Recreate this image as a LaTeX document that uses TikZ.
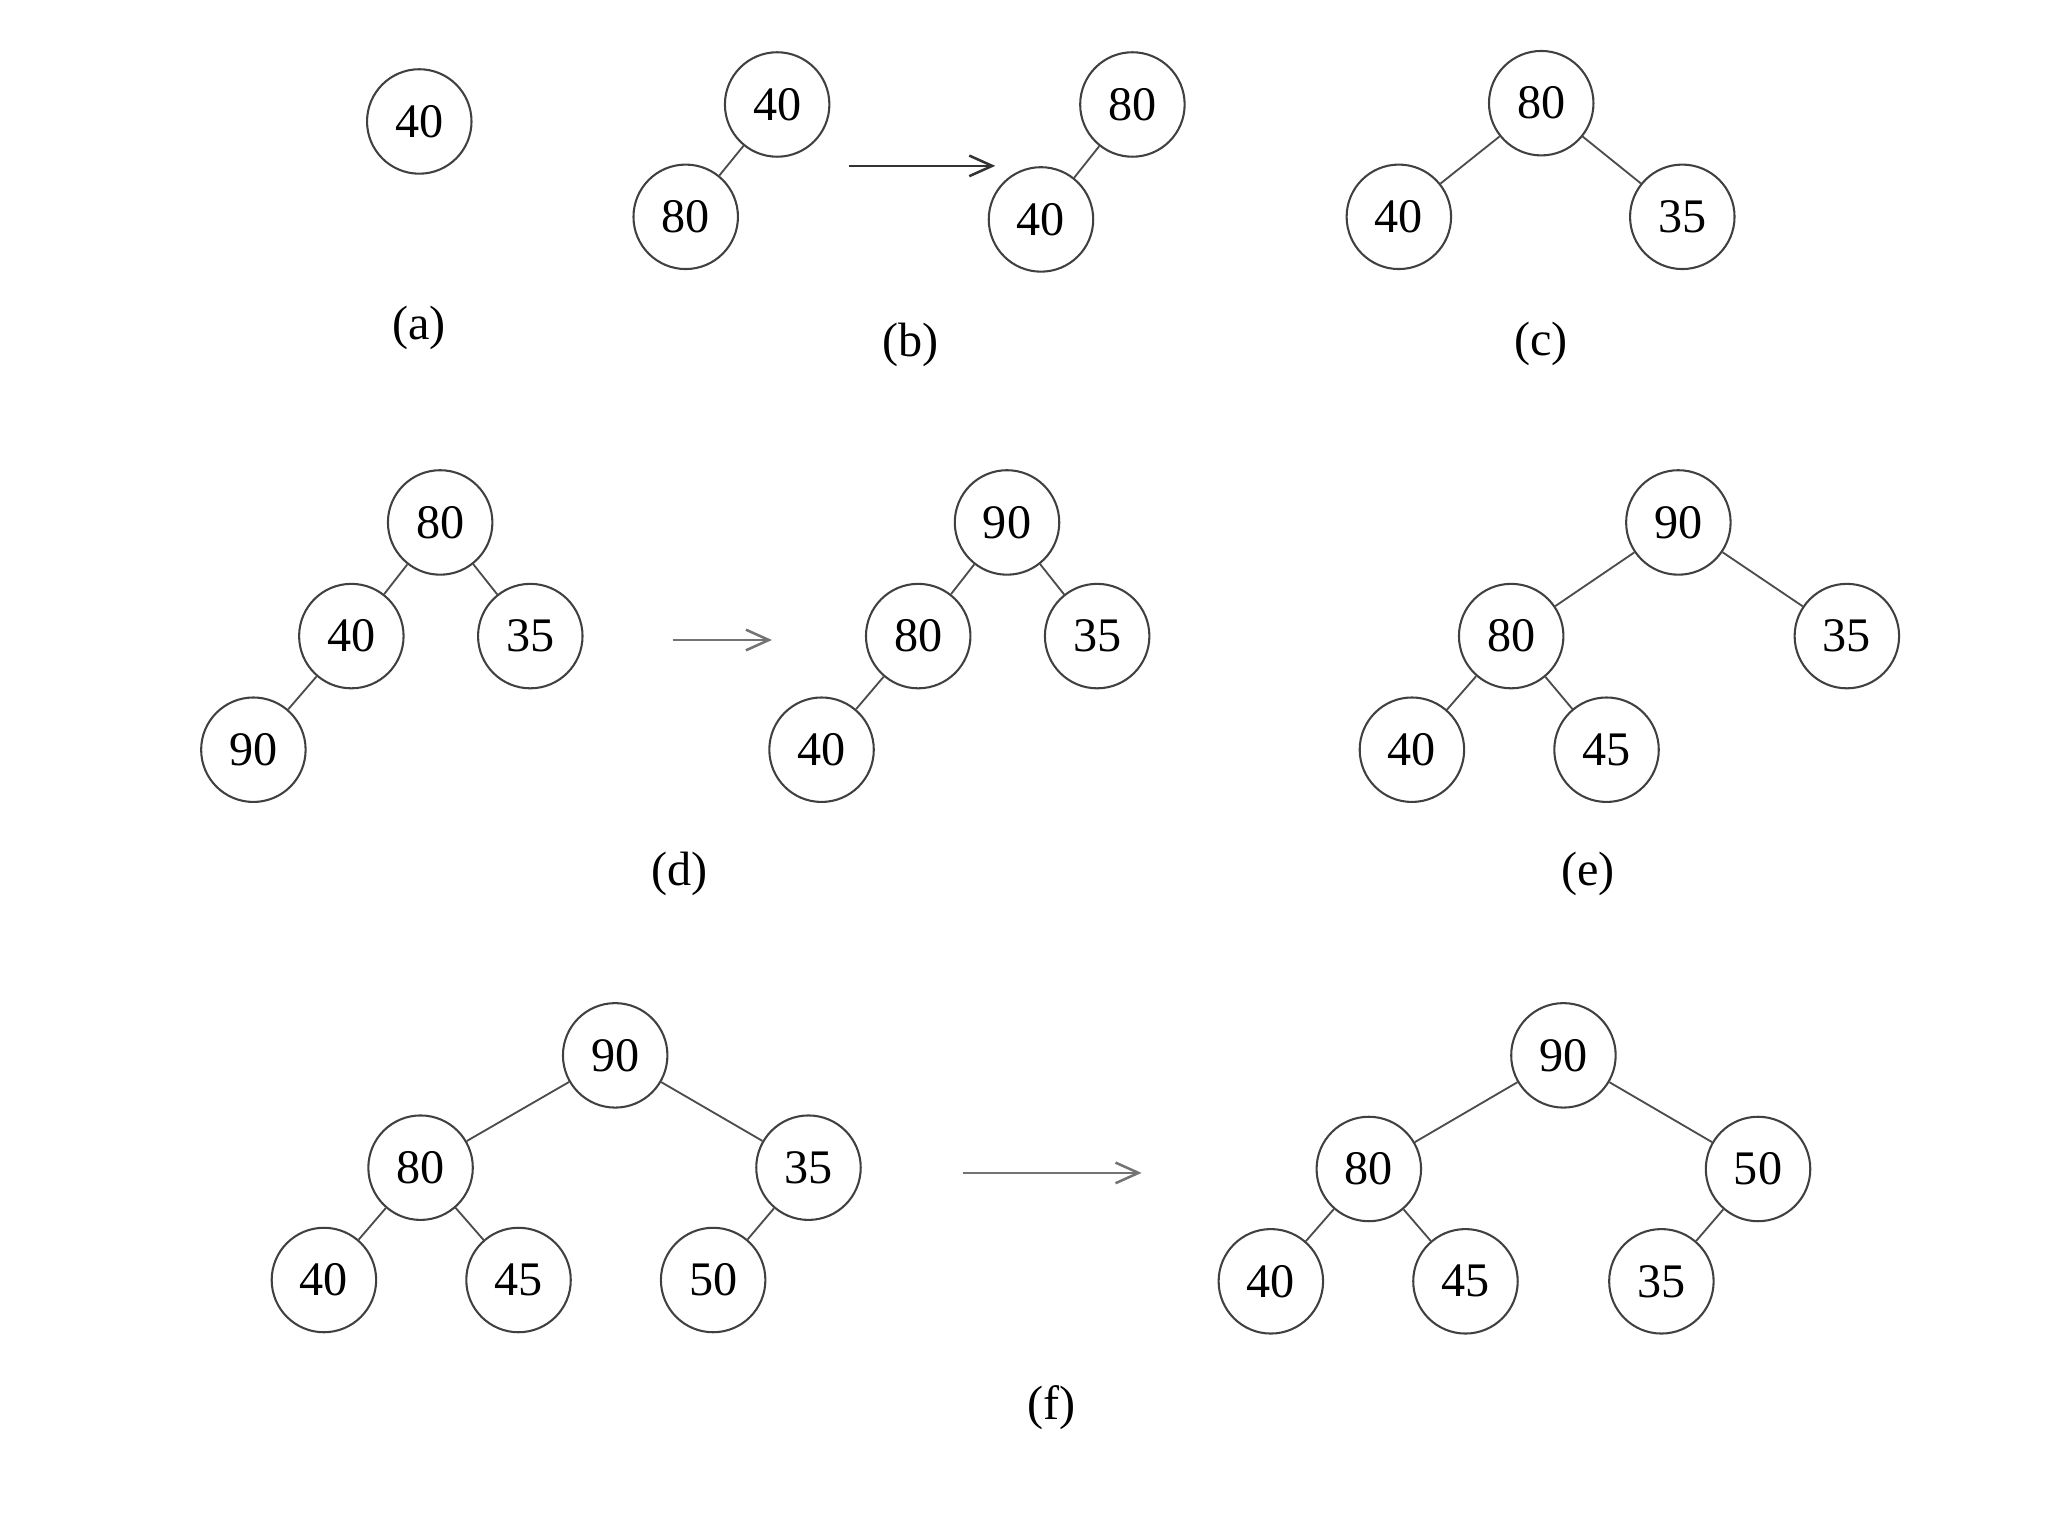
\documentclass[tikz,border=0pt]{standalone}
\usepackage{fontspec}
\setmainfont{Liberation Serif}
\usetikzlibrary{arrows.meta}
\tikzset{
  hn/.style={circle, draw=black!75, line width=0.9pt, minimum size=1.6cm, inner sep=0pt, font=\fontsize{21}{25}\selectfont},
  lbl/.style={font=\fontsize{21}{25}\selectfont},
  ed/.style={draw=black!70, line width=0.8pt},
  tr/.style={draw=black!55, line width=1.1pt, -{Straight Barb[length=10pt,width=9pt]}}
}
\begin{document}
\begin{tikzpicture}[x=0.02cm,y=-0.02cm]
\useasboundingbox (0,0) rectangle (1568,1176);
% (a)
\node[hn] (a1) at (321,93) {40};
\node[lbl] (la) at (321,251) {(a)};
% (b)
\node[hn] (b1) at (595,80) {40};
\node[hn] (b2) at (525,166) {80};
\draw[ed] (b1) -- (b2);
\coordinate (bs) at (650,127);
\coordinate (be) at (762,127);
\draw[tr, draw=black!80] (bs) -- (be);
\node[hn] (b3) at (867,80) {80};
\node[hn] (b4) at (797,168) {40};
\draw[ed] (b3) -- (b4);
\node[lbl] (lb) at (697,264) {(b)};
% (c)
\node[hn] (c1) at (1180,79) {80};
\node[hn] (c2) at (1071,166) {40};
\node[hn] (c3) at (1288,166) {35};
\draw[ed] (c1) -- (c2);
\draw[ed] (c1) -- (c3);
\node[lbl] (lc) at (1180,263) {(c)};
% (d)
\node[hn] (d1) at (337,400) {80};
\node[hn] (d2) at (269,487) {40};
\node[hn] (d3) at (406,487) {35};
\node[hn] (d4) at (194,574) {90};
\draw[ed] (d1) -- (d2);
\draw[ed] (d1) -- (d3);
\draw[ed] (d2) -- (d4);
\coordinate (ds) at (515,490);
\coordinate (de) at (591,490);
\draw[tr] (ds) -- (de);
\node[hn] (d5) at (771,400) {90};
\node[hn] (d6) at (703,487) {80};
\node[hn] (d7) at (840,487) {35};
\node[hn] (d8) at (629,574) {40};
\draw[ed] (d5) -- (d6);
\draw[ed] (d5) -- (d7);
\draw[ed] (d6) -- (d8);
\node[lbl] (ld) at (520,669) {(d)};
% (e)
\node[hn] (e1) at (1285,400) {90};
\node[hn] (e2) at (1157,487) {80};
\node[hn] (e3) at (1414,487) {35};
\node[hn] (e4) at (1081,574) {40};
\node[hn] (e5) at (1230,574) {45};
\draw[ed] (e1) -- (e2);
\draw[ed] (e1) -- (e3);
\draw[ed] (e2) -- (e4);
\draw[ed] (e2) -- (e5);
\node[lbl] (le) at (1216,669) {(e)};
% (f)
\node[hn] (f1) at (471,808) {90};
\node[hn] (f2) at (322,894) {80};
\node[hn] (f3) at (619,894) {35};
\node[hn] (f4) at (248,980) {40};
\node[hn] (f5) at (397,980) {45};
\node[hn] (f6) at (546,980) {50};
\draw[ed] (f1) -- (f2);
\draw[ed] (f1) -- (f3);
\draw[ed] (f2) -- (f4);
\draw[ed] (f2) -- (f5);
\draw[ed] (f3) -- (f6);
\coordinate (fs) at (737,898);
\coordinate (fe) at (874,898);
\draw[tr] (fs) -- (fe);
\node[hn] (g1) at (1197,808) {90};
\node[hn] (g2) at (1048,895) {80};
\node[hn] (g3) at (1346,895) {50};
\node[hn] (g4) at (973,981) {40};
\node[hn] (g5) at (1122,981) {45};
\node[hn] (g6) at (1272,981) {35};
\draw[ed] (g1) -- (g2);
\draw[ed] (g1) -- (g3);
\draw[ed] (g2) -- (g4);
\draw[ed] (g2) -- (g5);
\draw[ed] (g3) -- (g6);
\node[lbl] (lf) at (805,1078) {(f)};
\end{tikzpicture}
\end{document}
